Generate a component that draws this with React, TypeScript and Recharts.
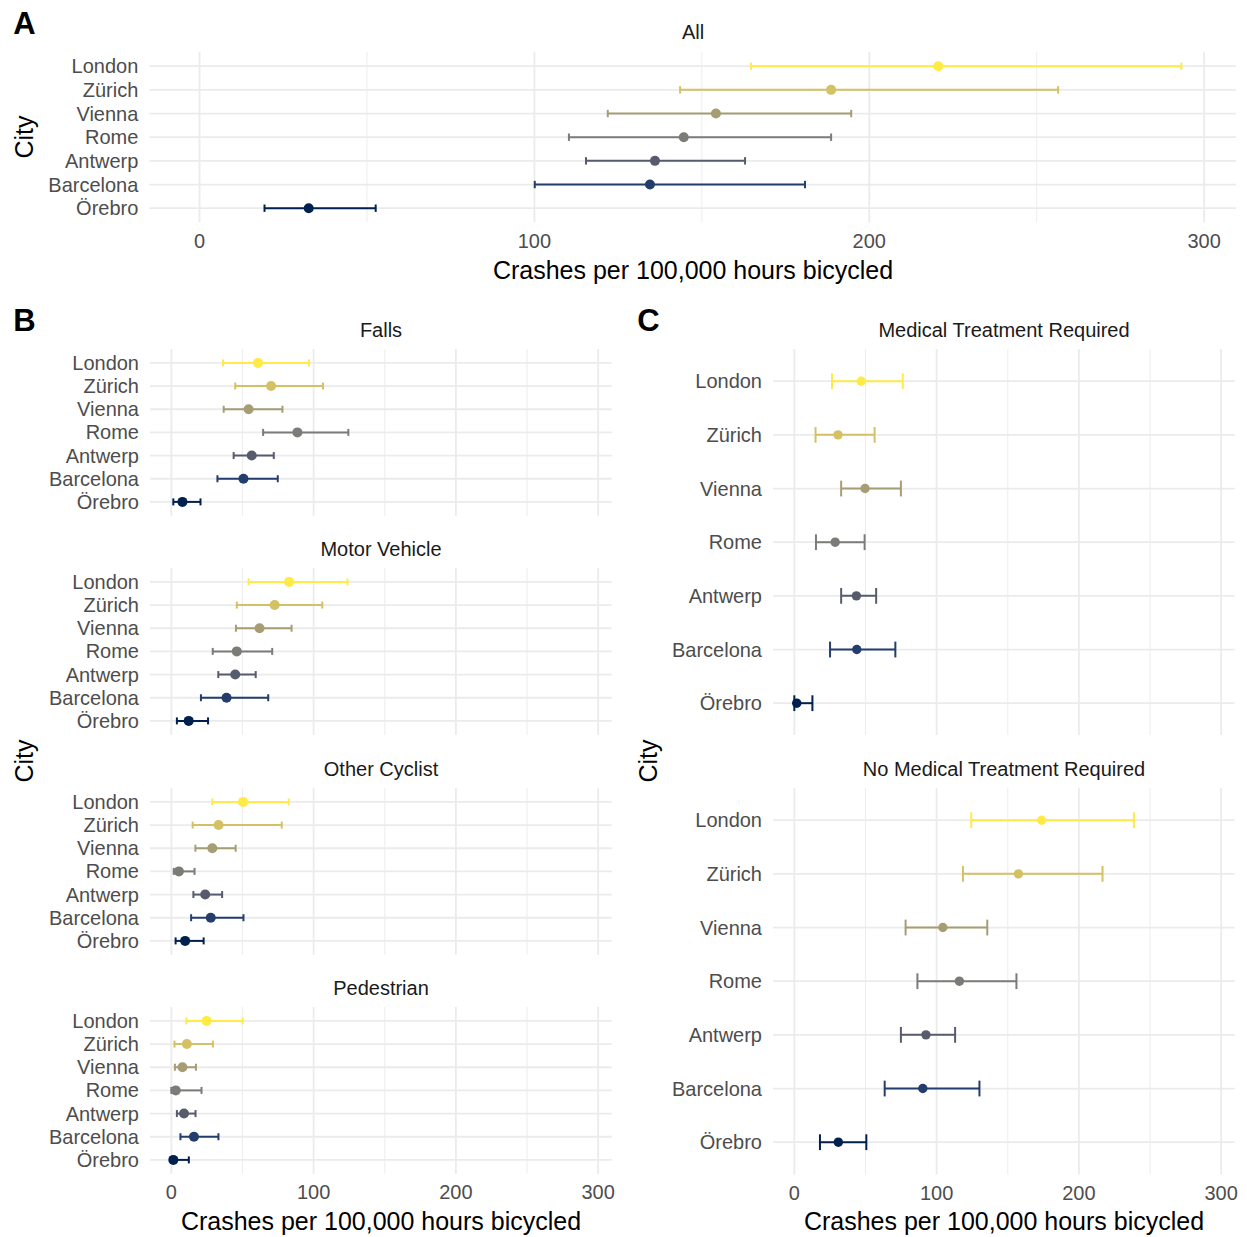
import { ScatterChart, Scatter, XAxis, YAxis, CartesianGrid, ErrorBar } from 'recharts';

const cities = ['London', 'Zürich', 'Vienna', 'Rome', 'Antwerp', 'Barcelona', 'Örebro'];
const cityColors = ['#FFEA46', '#D3C164', '#A69D75', '#7C7B78', '#575C6D', '#233E6C', '#00204D'];

const xTicks = [0, 100, 200, 300];
const xMinorTicks = [50, 150, 250];
const xDomain = [-15, 309.5];
const yTicks = [0, 1, 2, 3, 4, 5, 6];

// crashes per 100,000 hours: estimate, lower CI, upper CI (order follows cities)
const allRate = [220.6, 188.6, 154.2, 144.6, 136.0, 134.5, 32.6];
const allLower = [164.7, 143.5, 121.9, 110.3, 115.4, 100.1, 19.4];
const allUpper = [293.2, 256.4, 194.6, 188.6, 162.9, 180.8, 52.6];

const fallsRate = [60.9, 70.1, 54.3, 88.6, 56.5, 50.7, 7.8];
const fallsLower = [36.3, 44.9, 36.8, 64.5, 43.8, 32.4, 1.4];
const fallsUpper = [96.7, 106.6, 78.1, 124.4, 72.0, 74.8, 20.5];

const motorRate = [82.8, 72.6, 62.0, 46.0, 44.9, 38.8, 12.2];
const motorLower = [54.3, 46.0, 45.4, 29.1, 33.0, 20.8, 3.9];
const motorUpper = [123.8, 106.1, 84.5, 70.9, 59.3, 68.1, 25.8];

const cyclistRate = [50.4, 33.2, 28.8, 5.3, 23.8, 27.7, 9.7];
const cyclistLower = [28.8, 15.0, 16.9, 1.7, 15.5, 13.9, 3.0];
const cyclistUpper = [82.5, 77.6, 45.2, 16.3, 35.7, 50.7, 22.7];

const pedRate = [24.8, 10.9, 7.8, 3.1, 8.9, 15.9, 1.4];
const pedLower = [10.6, 2.2, 2.5, 0, 3.9, 6.4, 0];
const pedUpper = [50.1, 29.2, 17.3, 21.2, 17.0, 33.1, 12.3];

const medRate = [47.0, 30.7, 49.7, 28.7, 43.6, 43.9, 1.7];
const medLower = [26.5, 14.9, 32.9, 15.2, 32.9, 25.1, 0];
const medUpper = [76.2, 56.4, 74.9, 49.4, 57.5, 71.0, 12.7];

const noMedRate = [173.8, 157.5, 104.4, 116.0, 92.5, 90.3, 30.9];
const noMedLower = [124.3, 118.5, 78.2, 86.5, 74.9, 63.5, 18.0];
const noMedUpper = [238.7, 216.6, 135.6, 156.1, 113.0, 130.1, 50.6];

const FONT = '"Liberation Sans", Arial, sans-serif';

function DotPanel({ rate, lower, upper, left, top, plotWidth, plotHeight, labelWidth, showX, cap, r, padRight }) {
  const rows = cities.map((city, i) => ({
    city,
    y: i,
    x: rate[i],
    err: [rate[i] - lower[i], upper[i] - rate[i]],
  }));
  const axisH = showX ? 40 : 0;
  return (
    <div style={{ position: 'absolute', left: left - labelWidth, top }}>
      <ScatterChart
        width={plotWidth + labelWidth + padRight}
        height={plotHeight + axisH}
        margin={{ top: 0, right: padRight, bottom: 0, left: 0 }}
        style={{ fontFamily: FONT }}
      >
        <CartesianGrid
          stroke="#EBEBEB"
          strokeWidth={0.9}
          horizontal={false}
          verticalValues={xMinorTicks}
          syncWithTicks
        />
        <CartesianGrid stroke="#EBEBEB" strokeWidth={1.8} syncWithTicks />
        <XAxis
          type="number"
          dataKey="x"
          domain={xDomain}
          ticks={xTicks}
          allowDataOverflow
          hide={!showX}
          height={axisH}
          axisLine={false}
          tickLine={false}
          tickSize={0}
          tickMargin={11}
          tick={{ fill: '#4D4D4D', fontSize: 20 }}
        />
        <YAxis
          type="number"
          dataKey="y"
          domain={[-0.6, 6.6]}
          reversed
          ticks={yTicks}
          interval={0}
          allowDataOverflow
          width={labelWidth}
          axisLine={false}
          tickLine={false}
          tickSize={0}
          tickMargin={11}
          tickFormatter={(v) => cities[v]}
          tick={{ fill: '#4D4D4D', fontSize: 20 }}
        />
        {rows.map((row, i) => (
          <Scatter
            key={row.city}
            data={[row]}
            fill={cityColors[i]}
            isAnimationActive={false}
            shape={(p: any) => <circle cx={p.cx} cy={p.cy} r={r} fill={cityColors[i]} />}
          >
            <ErrorBar
              dataKey="err"
              direction="x"
              width={cap}
              stroke={cityColors[i]}
              strokeWidth={2}
              isAnimationActive={false}
            />
          </Scatter>
        ))}
      </ScatterChart>
    </div>
  );
}

function Txt({ x, y, size, children, bold = false, rotate = false, color = '#000' }) {
  return (
    <div
      style={{
        position: 'absolute',
        left: x,
        top: y,
        transform: `translate(-50%, -50%)${rotate ? ' rotate(-90deg)' : ''}`,
        fontSize: size,
        fontWeight: bold ? 'bold' : 'normal',
        lineHeight: 1,
        whiteSpace: 'nowrap',
        color,
        fontFamily: FONT,
      }}
    >
      {children}
    </div>
  );
}

export default function App() {
  const bTops = [349.1, 568.1, 788.1, 1007.1];
  const bSets = [
    [fallsRate, fallsLower, fallsUpper],
    [motorRate, motorLower, motorUpper],
    [cyclistRate, cyclistLower, cyclistUpper],
    [pedRate, pedLower, pedUpper],
  ];
  const bTitles = ['Falls', 'Motor Vehicle', 'Other Cyclist', 'Pedestrian'];
  const cTops = [348.8, 787.8];
  const cSets = [
    [medRate, medLower, medUpper],
    [noMedRate, noMedLower, noMedUpper],
  ];
  const cTitles = ['Medical Treatment Required', 'No Medical Treatment Required'];

  return (
    <div
      style={{
        position: 'absolute',
        left: 0,
        top: 0,
        width: 1247,
        height: 1237,
        background: '#fff',
        overflow: 'hidden',
        fontFamily: FONT,
      }}
    >
      <DotPanel
        rate={allRate}
        lower={allLower}
        upper={allUpper}
        left={149.3}
        top={51.8}
        plotWidth={1236 - 149.3}
        plotHeight={170.4}
        labelWidth={149.3}
        showX
        cap={3.7}
        r={5}
        padRight={11}
      />
      <Txt x={24.5} y={23} size={31} bold>A</Txt>
      <Txt x={693} y={32} size={20} color="#1A1A1A">All</Txt>
      <Txt x={693} y={270} size={25}>Crashes per 100,000 hours bicycled</Txt>
      <Txt x={24} y={137} size={25} rotate>City</Txt>

      {bSets.map((s, i) => (
        <DotPanel
          key={bTitles[i]}
          rate={s[0]}
          lower={s[1]}
          upper={s[2]}
          left={150}
          top={bTops[i]}
          plotWidth={611.7 - 150}
          plotHeight={166.8}
          labelWidth={150}
          showX={i === 3}
          cap={3.5}
          r={5}
          padRight={20}
        />
      ))}
      {bTitles.map((t, i) => (
        <Txt key={t} x={381} y={bTops[i] - 19} size={20} color="#1A1A1A">{t}</Txt>
      ))}
      <Txt x={24.5} y={320} size={31} bold>B</Txt>
      <Txt x={381} y={1221} size={25}>Crashes per 100,000 hours bicycled</Txt>
      <Txt x={24} y={761} size={25} rotate>City</Txt>

      {cSets.map((s, i) => (
        <DotPanel
          key={cTitles[i]}
          rate={s[0]}
          lower={s[1]}
          upper={s[2]}
          left={773.3}
          top={cTops[i]}
          plotWidth={1235 - 773.3}
          plotHeight={386.4}
          labelWidth={130}
          showX={i === 1}
          cap={7.9}
          r={4.7}
          padRight={12}
        />
      ))}
      {cTitles.map((t, i) => (
        <Txt key={t} x={1004} y={cTops[i] - 19} size={20} color="#1A1A1A">{t}</Txt>
      ))}
      <Txt x={648.5} y={320} size={31} bold>C</Txt>
      <Txt x={1004} y={1221} size={25}>Crashes per 100,000 hours bicycled</Txt>
      <Txt x={648} y={761} size={25} rotate>City</Txt>
    </div>
  );
}
